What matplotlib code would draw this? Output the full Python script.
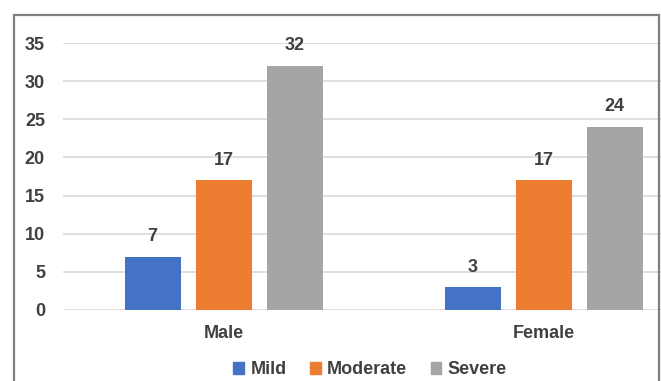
import matplotlib.pyplot as plt
import matplotlib.patches as mpatches
import numpy as np

plt.rcParams['font.family'] = ['Liberation Sans', 'DejaVu Sans']

groups = ['Male', 'Female']
severity = ['Mild', 'Moderate', 'Severe']
counts = {
    'Mild': [7, 3],
    'Moderate': [17, 17],
    'Severe': [32, 24],
}
colors = ['#4472C4', '#ED7D31', '#A5A5A5']
yticks = [0, 5, 10, 15, 20, 25, 30, 35]

W, H = 661, 381
fig = plt.figure(figsize=(W / 100, H / 100), dpi=100)

# axes box in pixel terms: left 63, right at figure edge, y from 43 (35) to 310 (0)
ax = fig.add_axes([63 / W, 1 - 310 / H, (W - 63) / W, (310 - 43) / H])

x = np.arange(len(groups))
width = 0.175
step = 0.222
text_col = '#404040'

for i, name in enumerate(severity):
    pos = x + (i - 1) * step
    bars = ax.bar(pos, counts[name], width, color=colors[i], zorder=3)
    for b, v in zip(bars, counts[name]):
        ax.text(b.get_x() + b.get_width() / 2, v + 1.5, str(v),
                ha='center', va='bottom', fontsize=13, fontweight='bold',
                color=text_col)

ax.set_xlim(-0.502, 1.367)
ax.set_ylim(0, 35)
ax.set_yticks(yticks)
ax.set_xticks(x)
ax.set_xticklabels(groups)
ax.grid(axis='y', color='#D9D9D9', linewidth=1.2, zorder=0)
for s in ax.spines.values():
    s.set_visible(False)
ax.tick_params(length=0, labelsize=13, labelcolor=text_col)
ax.tick_params(axis='y', pad=13)
ax.tick_params(axis='x', pad=11)
for lab in ax.get_xticklabels() + ax.get_yticklabels():
    lab.set_fontweight('bold')

handles = [mpatches.Patch(color=c, label=n) for c, n in zip(colors, severity)]
leg = fig.legend(handles=handles, loc='center', ncol=3,
                 bbox_to_anchor=(370 / W, 1 - 370 / H), frameon=False,
                 borderpad=0.1,
                 handlelength=0.6, handleheight=0.6, handletextpad=0.35,
                 columnspacing=1.3,
                 prop={'weight': 'bold', 'size': 13})
for t in leg.get_texts():
    t.set_color(text_col)

# outer chart border
fig.add_artist(mpatches.Rectangle((14 / W, -0.05), (659 - 14) / W, 1.05 - 15 / H,
                                  transform=fig.transFigure, fill=False,
                                  edgecolor='#7F7F7F', linewidth=1.6))

fig.savefig('out.png', dpi=100)
